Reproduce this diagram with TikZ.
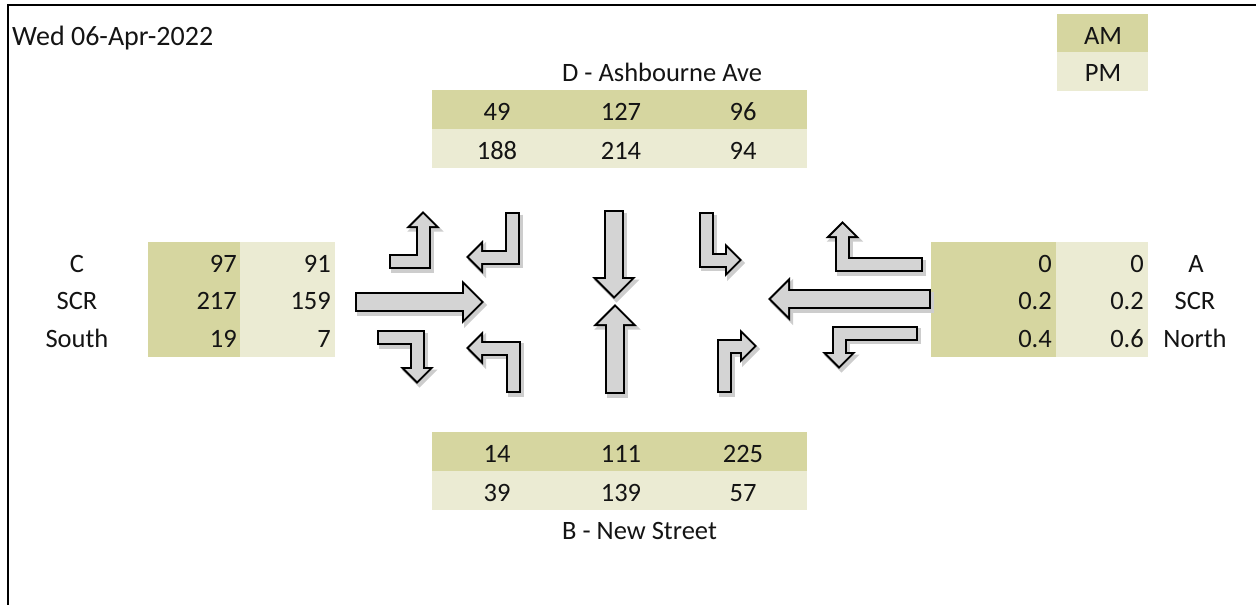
\documentclass[tikz,border=0pt]{standalone}
\usepackage{fontspec}
\setmainfont{Carlito}
\usetikzlibrary{calc}
\definecolor{amc}{RGB}{214,214,160}
\definecolor{pmc}{RGB}{235,235,211}
\definecolor{arrfill}{RGB}{212,212,212}
\definecolor{shadowc}{RGB}{205,205,205}
\newcommand{\blockarr}[6]{%
  \coordinate (bt) at #6;
  \coordinate (bc) at #5;
  \coordinate (bb) at ($(bt)!#3!(bc)$);
  \coordinate (be) at ($(bb)!2pt!(bt)$);
  \coordinate (ha) at ($(bb)!#2!90:(bt)$);
  \coordinate (hb) at ($(bb)!#2!-90:(bt)$);
  \begin{scope}[transform canvas={shift={(2.5,3)}}]
    \draw[shadowc, line width=#1+5pt, line join=miter, shorten <=-2.5pt] #4 (bc) -- (be);
    \filldraw[shadowc, line width=5pt, line join=miter] (ha) -- (bt) -- (hb) -- cycle;
  \end{scope}
  \draw[black, line width=#1+4pt, line join=miter, shorten <=-2pt] #4 (bc) -- (be);
  \filldraw[black, line width=4pt, line join=miter] (ha) -- (bt) -- (hb) -- cycle;
  \draw[arrfill, line width=#1, line join=miter] #4 (bc) -- (be);
  \fill[arrfill] (ha) -- (bt) -- (hb) -- cycle;
}
\begin{document}
\begin{tikzpicture}[x=1pt,y=-1pt,
  every node/.style={font=\fontsize{26.5}{30}\selectfont, inner sep=0pt, text=black!92},
  lbl/.style={anchor=base},
  numr/.style={anchor=base east}]
\useasboundingbox (0,0) rectangle (1256,605);
\fill[white] (0,0) rectangle (1256,605);
% frame
\draw[line width=2pt] (8,605) -- (8,5) -- (1256,5);

% date
\node[anchor=base west, font=\fontsize{28}{32}\selectfont] (date) at (12,45) {Wed 06-Apr-2022};

% legend
\fill[amc] (1057,14) rectangle (1148,52);
\fill[pmc] (1057,52) rectangle (1148,91);
\node[lbl] (am) at (1103,44) {AM};
\node[lbl] (pm) at (1103,81) {PM};

% top table D
\node[anchor=base west] (dlab) at (562,81) {D - Ashbourne Ave};
\fill[amc] (432,90) rectangle (807,129);
\fill[pmc] (432,129) rectangle (807,168);
\node[lbl] (d1) at (497,120) {49};
\node[lbl] (d2) at (621,120) {127};
\node[lbl] (d3) at (743,120) {96};
\node[lbl] (d4) at (497,159) {188};
\node[lbl] (d5) at (621,159) {214};
\node[lbl] (d6) at (743,159) {94};

% bottom table B
\fill[amc] (432,432) rectangle (807,471);
\fill[pmc] (432,471) rectangle (807,510);
\node[lbl] (b1) at (497,462) {14};
\node[lbl] (b2) at (621,462) {111};
\node[lbl] (b3) at (743,462) {225};
\node[lbl] (b4) at (497,501) {39};
\node[lbl] (b5) at (621,501) {139};
\node[lbl] (b6) at (743,501) {57};
\node[anchor=base west] (blab) at (562,539) {B - New Street};

% left table C
\fill[amc] (148,242) rectangle (240,357);
\fill[pmc] (240,242) rectangle (335,357);
\node[lbl] (c1) at (77,272) {C};
\node[lbl] (c2) at (77,309) {SCR};
\node[lbl] (c3) at (77,347) {South};
\node[numr] (c4) at (237,272) {97};
\node[numr] (c5) at (237,309) {217};
\node[numr] (c6) at (237,347) {19};
\node[numr] (c7) at (331,272) {91};
\node[numr] (c8) at (331,309) {159};
\node[numr] (c9) at (331,347) {7};

% right table A
\fill[amc] (931,242) rectangle (1056,357);
\fill[pmc] (1056,242) rectangle (1148,357);
\node[numr] (a1) at (1052,272) {0};
\node[numr] (a2) at (1052,309) {0.2};
\node[numr] (a3) at (1052,347) {0.4};
\node[numr] (a4) at (1144,272) {0};
\node[numr] (a5) at (1144,309) {0.2};
\node[numr] (a6) at (1144,347) {0.6};
\node[lbl] (a7) at (1196,272) {A};
\node[lbl] (a8) at (1195,309) {SCR};
\node[lbl] (a9) at (1195,347) {North};

% arrows
\blockarr{11pt}{12pt}{12pt}{(391,261.5) --}{(423,261.5)}{(423,214)}
\blockarr{11pt}{12pt}{12pt}{(512,214) --}{(512,257)}{(469,257)}
\blockarr{16pt}{17pt}{17pt}{}{(357,302)}{(481,302)}
\blockarr{11pt}{12pt}{12pt}{(379,337.5) --}{(417,337.5)}{(417,381)}
\blockarr{11pt}{12pt}{12pt}{(513,391) --}{(513,348)}{(469,348)}
\blockarr{16pt}{17pt}{17pt}{}{(614,212)}{(614,296)}
\blockarr{16pt}{17pt}{17pt}{}{(615,392)}{(615,307)}
\blockarr{11pt}{12pt}{12pt}{(706,214) --}{(706,260)}{(739,260)}
\blockarr{11pt}{12pt}{12pt}{(921,264.5) --}{(842.5,264.5)}{(842.5,224)}
\blockarr{16pt}{17pt}{17pt}{}{(929,299)}{(771,299)}
\blockarr{11pt}{12pt}{12pt}{(916,333) --}{(839,333)}{(839,366)}
\blockarr{11pt}{12pt}{12pt}{(724,391) --}{(724,346)}{(754,346)}
\end{tikzpicture}
\end{document}
